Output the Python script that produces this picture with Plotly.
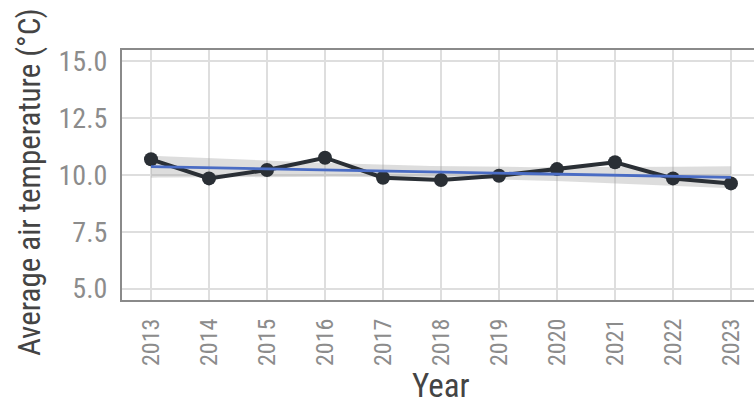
import numpy as np
import plotly.graph_objects as go

# Annual mean air temperature
years = [2013, 2014, 2015, 2016, 2017, 2018, 2019, 2020, 2021, 2022, 2023]
temps = [10.69, 9.85, 10.22, 10.76, 9.88, 9.78, 9.97, 10.26, 10.56, 9.85, 9.63]
y_ticks = [5.0, 7.5, 10.0, 12.5, 15.0]
y_tick_text = ["5.0", "7.5", "10.0", "12.5", "15.0"]

# Linear trend with 95% confidence band
x = np.array(years, dtype=float)
y = np.array(temps)
n = len(x)
slope, intercept = np.polyfit(x, y, 1)
xs = np.linspace(x.min(), x.max(), 80)
fit = slope * xs + intercept
resid = y - (slope * x + intercept)
s = np.sqrt(np.sum(resid ** 2) / (n - 2))
sxx = np.sum((x - x.mean()) ** 2)
se = s * np.sqrt(1.0 / n + (xs - x.mean()) ** 2 / sxx)
t_crit = 2.262  # t(0.975, df=9)
upper = fit + t_crit * se
lower = fit - t_crit * se

FONT = "Liberation Sans Narrow, Roboto Condensed, Roboto, sans-serif"

fig = go.Figure()
fig.add_trace(go.Scatter(
    x=np.concatenate([xs, xs[::-1]]), y=np.concatenate([upper, lower[::-1]]),
    fill="toself", fillcolor="rgba(165,165,165,0.38)", line=dict(width=0),
    hoverinfo="skip", showlegend=False))
fig.add_trace(go.Scatter(
    x=years, y=temps, mode="lines+markers",
    line=dict(color="#2a2f35", width=4),
    marker=dict(color="#2a2f35", size=14),
    showlegend=False))
fig.add_trace(go.Scatter(
    x=xs, y=fit, mode="lines", line=dict(color="#4a6cc4", width=2.8),
    showlegend=False))

fig.update_layout(
    width=754, height=408,
    margin=dict(l=122, r=0, t=50, b=108),
    paper_bgcolor="white", plot_bgcolor="white",
    font=dict(family=FONT),
    xaxis=dict(
        range=[2012.5, 2023.397], tickmode="array", tickvals=years,
        ticktext=[str(v) for v in years], tickangle=-90,
        tickfont=dict(size=24, color="#8c8c8c", family=FONT),
        showgrid=True, gridcolor="#dedede", gridwidth=1.5,
        showline=True, mirror=True, linecolor="#8a8a8a", linewidth=2,
        ticks="", ticklabelstandoff=7, zeroline=False),
    yaxis=dict(
        range=[4.5, 15.5], tickmode="array", tickvals=y_ticks,
        ticktext=y_tick_text,
        tickfont=dict(size=28, color="#8c8c8c", family=FONT),
        showgrid=True, gridcolor="#dedede", gridwidth=1.5,
        showline=True, mirror=False, linecolor="#8a8a8a", linewidth=2,
        ticks="", ticklabelstandoff=7, zeroline=False),
)

fig.add_annotation(
    text="Average air temperature (°C)", xref="paper", yref="paper",
    x=(29 - 122) / 632, y=(300 - 182) / 250, textangle=-90,
    showarrow=False, xanchor="center", yanchor="middle",
    font=dict(size=31, color="#444444", family=FONT))
fig.add_annotation(
    text="Year", xref="paper", yref="paper",
    x=(441 - 122) / 632, y=(300 - 386) / 250,
    showarrow=False, xanchor="center", yanchor="middle",
    font=dict(size=33, color="#444444", family=FONT))

fig.write_html("out.html")
